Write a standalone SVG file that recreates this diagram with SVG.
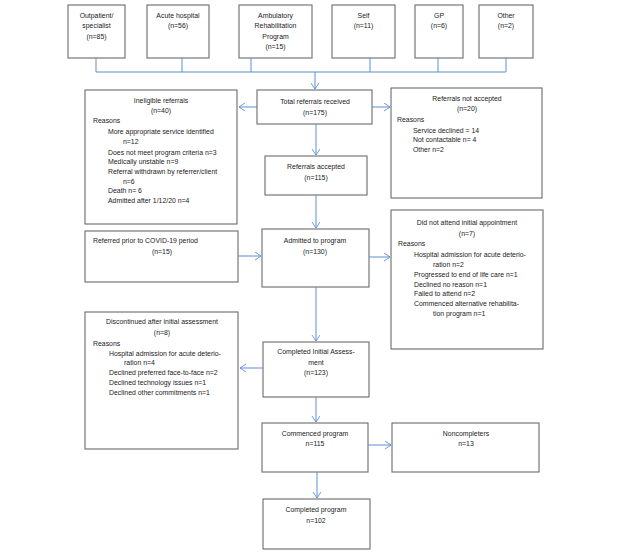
<svg xmlns="http://www.w3.org/2000/svg" width="628" height="555" viewBox="0 0 628 555">
<defs>
<marker id="arr" markerWidth="10" markerHeight="10" refX="6" refY="4" orient="auto" markerUnits="userSpaceOnUse">
<path d="M0,0 L6,4 L0,8" fill="none" stroke="#5b8fd6" stroke-width="0.9"/>
</marker>
</defs>
<style>
.box{fill:#fff;stroke:#6b6b6b;stroke-width:1.1}
text{font-family:"Liberation Sans",Arial,sans-serif;font-size:6.9px;fill:#222}
.c{text-anchor:middle}
.con{fill:none;stroke:#5b8fd6;stroke-width:1}
</style>
<rect width="628" height="555" fill="#fff"/>

<g id="outpatient"><rect class="box" x="68" y="5" width="57" height="53"/>
<text class="c" x="96.5" y="17.5">Outpatient/</text><text class="c" x="96.5" y="28">specialist</text><text class="c" x="96.5" y="38.5">(n=85)</text></g>
<g id="acute"><rect class="box" x="147" y="5" width="62" height="53"/>
<text class="c" x="178" y="17.5">Acute hospital</text><text class="c" x="178" y="28">(n=56)</text></g>
<g id="ambulatory"><rect class="box" x="239" y="5" width="73" height="53"/>
<text class="c" x="275.5" y="17.5">Ambulatory</text><text class="c" x="275.5" y="28">Rehabilitation</text><text class="c" x="275.5" y="38.5">Program</text><text class="c" x="275.5" y="49">(n=15)</text></g>
<g id="self"><rect class="box" x="332" y="5" width="63" height="53"/>
<text class="c" x="363.5" y="17.5">Self</text><text class="c" x="363.5" y="28">(n=11)</text></g>
<g id="gp"><rect class="box" x="415" y="5" width="48" height="53"/>
<text class="c" x="439" y="17.5">GP</text><text class="c" x="439" y="28">(n=6)</text></g>
<g id="other"><rect class="box" x="479" y="5" width="54" height="53"/>
<text class="c" x="506" y="17.5">Other</text><text class="c" x="506" y="28">(n=2)</text></g>

<g id="ineligible"><rect class="box" x="85" y="90" width="152" height="134"/>
<text class="c" x="161" y="103">Ineligible referrals</text><text class="c" x="161" y="113">(n=40)</text>
<text x="93" y="122.5">Reasons</text>
<text x="108" y="134">More appropriate service identified</text>
<text x="123" y="144">n=12</text>
<text x="108" y="154.5">Does not meet program criteria n=3</text>
<text x="108" y="164">Medically unstable n=9</text>
<text x="108" y="174">Referral withdrawn by referrer/client</text>
<text x="123" y="183.5">n=6</text>
<text x="108" y="192.5">Death n= 6</text>
<text x="108" y="203">Admitted after 1/12/20 n=4</text></g>

<g id="total"><rect class="box" x="257" y="90" width="115" height="34"/>
<text class="c" x="315" y="103.5">Total referrals received</text><text class="c" x="315" y="114.5">(n=175)</text></g>

<g id="notaccepted"><rect class="box" x="391" y="88" width="151" height="110"/>
<text class="c" x="467" y="100.5">Referrals not accepted</text><text class="c" x="467" y="110.5">(n=20)</text>
<text x="397" y="121.5">Reasons</text>
<text x="413" y="132.5">Service declined = 14</text>
<text x="413" y="141.5">Not contactable n= 4</text>
<text x="413" y="151.5">Other n=2</text></g>

<g id="accepted"><rect class="box" x="265" y="156" width="102" height="39"/>
<text class="c" x="316" y="168.5">Referrals accepted</text><text class="c" x="316" y="179.5">(n=115)</text></g>

<g id="prior"><rect class="box" x="85" y="231" width="153" height="51"/>
<text x="93" y="242.5">Referred prior to COVID-19 period</text><text class="c" x="162" y="253.5">(n=15)</text></g>

<g id="admitted"><rect class="box" x="262" y="229" width="107" height="58"/>
<text class="c" x="315" y="242.5">Admitted to program</text><text class="c" x="315" y="253.5">(n=130)</text></g>

<g id="didnotattend"><rect class="box" x="391" y="210" width="152" height="139"/>
<text class="c" x="467" y="224.5">Did not attend initial appointment</text><text class="c" x="467" y="235.5">(n=7)</text>
<text x="398" y="245.5">Reasons</text>
<text x="414" y="256.5">Hospital admission for acute deterio-</text>
<text x="433" y="266.5">ration n=2</text>
<text x="414" y="276.5">Progressed to end of life care n=1</text>
<text x="414" y="286.5">Declined no reason n=1</text>
<text x="414" y="295.5">Failed to attend n=2</text>
<text x="414" y="305.5">Commenced alternative rehabilita-</text>
<text x="433" y="315.5">tion program n=1</text></g>

<g id="discontinued"><rect class="box" x="85" y="312" width="153" height="137"/>
<text class="c" x="162" y="323.5">Discontinued after initial assessment</text><text class="c" x="162" y="334.5">(n=8)</text>
<text x="93" y="345.5">Reasons</text>
<text x="109" y="355.5">Hospital admission for acute deterio-</text>
<text x="124" y="364.5">ration n=4</text>
<text x="109" y="374.5">Declined preferred face-to-face n=2</text>
<text x="109" y="384.5">Declined technology issues n=1</text>
<text x="109" y="394.5">Declined other commitments n=1</text></g>

<g id="cia"><rect class="box" x="263" y="342" width="106" height="55"/>
<text class="c" x="316" y="353.5">Completed Initial Assess-</text><text class="c" x="316" y="364.5">ment</text><text class="c" x="316" y="374.5">(n=123)</text></g>

<g id="commenced"><rect class="box" x="262" y="423" width="106" height="49"/>
<text class="c" x="315" y="435.5">Commenced program</text><text class="c" x="315" y="445.5">n=115</text></g>

<g id="noncompleters"><rect class="box" x="392" y="423" width="147" height="49"/>
<text class="c" x="466" y="435.5">Noncompleters</text><text class="c" x="466" y="445.5">n=13</text></g>

<g id="completed"><rect class="box" x="263" y="499" width="107" height="50"/>
<text class="c" x="316" y="511.5">Completed program</text><text class="c" x="316" y="522.5">n=102</text></g>

<g id="connectors">
<path class="con" d="M96,58V72M182,58V72M251,58V72M370,58V72M438,58V72M506,58V72M96,72H506"/>
<path class="con" marker-end="url(#arr)" d="M315,72V89"/>
<path class="con" marker-end="url(#arr)" d="M257,107H239"/>
<path class="con" marker-end="url(#arr)" d="M372,107H390"/>
<path class="con" marker-end="url(#arr)" d="M316,124V155"/>
<path class="con" marker-end="url(#arr)" d="M316,195V228"/>
<path class="con" marker-end="url(#arr)" d="M238,256H261"/>
<path class="con" marker-end="url(#arr)" d="M369,257H390"/>
<path class="con" marker-end="url(#arr)" d="M316,287V341"/>
<path class="con" marker-end="url(#arr)" d="M263,368H240"/>
<path class="con" marker-end="url(#arr)" d="M316,397V422"/>
<path class="con" marker-end="url(#arr)" d="M368,445H391"/>
<path class="con" marker-end="url(#arr)" d="M317,472V498"/>
</g>
</svg>
